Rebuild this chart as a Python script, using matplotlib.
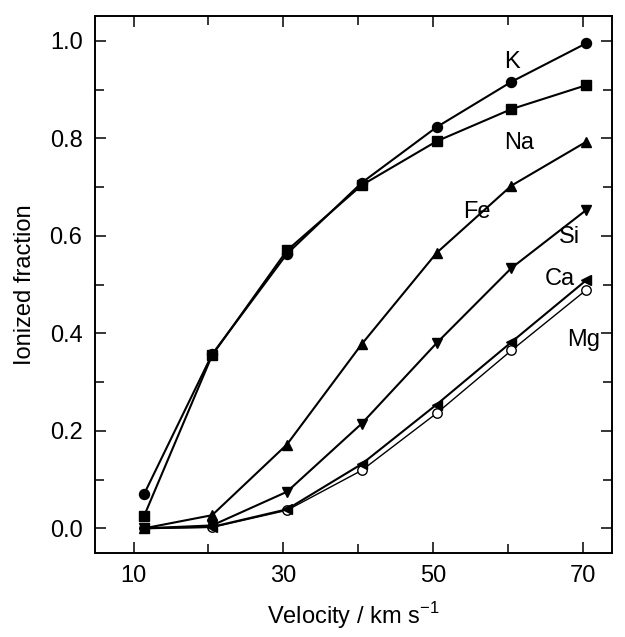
import matplotlib.pyplot as plt
from matplotlib.ticker import MultipleLocator

plt.rcParams['font.family'] = ['Liberation Sans', 'DejaVu Sans']
plt.rcParams['mathtext.fontset'] = 'custom'
plt.rcParams['mathtext.rm'] = 'Liberation Sans'

# velocity (km/s) and ionized fraction per element
velocity = [11.4, 20.5, 30.5, 40.5, 50.5, 60.5, 70.5]
K = [0.070, 0.357, 0.563, 0.709, 0.823, 0.916, 0.995]
Na = [0.025, 0.355, 0.570, 0.704, 0.794, 0.860, 0.909]
Fe = [0.000, 0.027, 0.172, 0.378, 0.565, 0.703, 0.793]
Si = [0.000, 0.006, 0.075, 0.215, 0.380, 0.534, 0.653]
Ca = [0.000, 0.003, 0.039, 0.132, 0.254, 0.382, 0.509]
Mg = [0.000, 0.002, 0.037, 0.119, 0.236, 0.365, 0.489]

fig = plt.figure(figsize=(6.25, 6.37), dpi=100)
ax = fig.add_axes([0.152, 0.1323, 0.8267, 0.8426])

# Mg (open circles) goes underneath the filled markers
ax.plot(velocity, Mg, marker='o', color='black', lw=1.0, ms=6.8,
        markerfacecolor='white', markeredgewidth=1.0)
kw = dict(color='black', lw=1.5, ms=7.2)
ax.plot(velocity, K, marker='o', **kw)
ax.plot(velocity, Na, marker='s', color='black', lw=1.5, ms=6.5)
ax.plot(velocity, Fe, marker='^', **kw)
ax.plot(velocity, Si, marker='v', **kw)
ax.plot(velocity, Ca, marker='<', **kw)

labels = [('K', 60.6, 0.956), ('Na', 61.5, 0.790), ('Fe', 55.9, 0.649),
          ('Si', 68.3, 0.598), ('Ca', 67.0, 0.511), ('Mg', 70.1, 0.386)]
for txt, x, y in labels:
    ax.text(x, y, txt, fontsize=17, ha='center', va='center')

ax.set_xlim(4.85, 73.9)
ax.set_ylim(-0.05, 1.051)
ax.xaxis.set_minor_locator(MultipleLocator(10))
ax.set_xticks([10, 30, 50, 70])
ax.yaxis.set_major_locator(MultipleLocator(0.2))
ax.yaxis.set_minor_locator(MultipleLocator(0.1))
ax.yaxis.set_major_formatter(plt.FuncFormatter(lambda v, p: f'{v:.1f}'))

ax.tick_params(which='both', direction='in', top=True, right=True,
               labeltop=False, labelright=False, width=1.1, labelsize=17)
ax.tick_params(which='major', length=8, pad=9)
ax.tick_params(which='minor', length=6.5)
for s in ax.spines.values():
    s.set_linewidth(1.4)

ax.set_xlabel('Velocity / km s$^{-1}$', fontsize=17, labelpad=9)
ax.set_ylabel('Ionized fraction', fontsize=17, labelpad=10)

plt.savefig('out.png', dpi=100)
